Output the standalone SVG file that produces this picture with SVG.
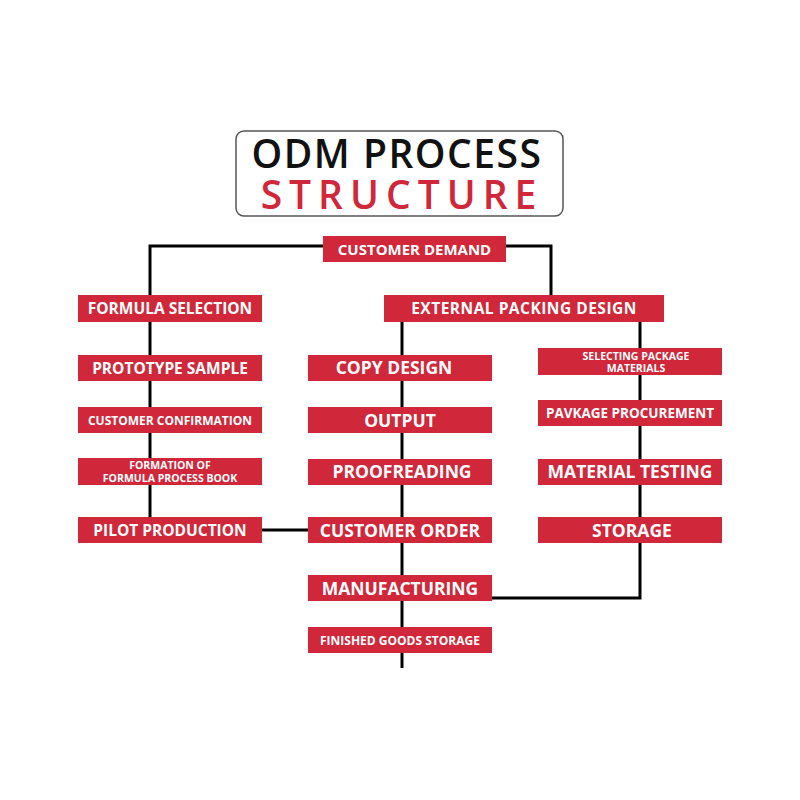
<svg xmlns="http://www.w3.org/2000/svg" width="800" height="800" viewBox="0 0 800 800">
<style>
.b{fill:#d0273a}
.t{fill:#fff;font-family:"Open Sans","Liberation Sans",sans-serif;font-weight:bold;text-anchor:middle}
.l{stroke:#000;stroke-width:3;fill:none}
</style>
<rect width="800" height="800" fill="#fff"/>
<g id="title">
<rect x="236" y="131" width="327" height="85" rx="8" fill="#fff" stroke="#555" stroke-width="1.5"/>
<text x="397" y="168" font-family="'Open Sans','Liberation Sans',sans-serif" font-size="39" font-weight="600" text-anchor="middle" fill="#111" letter-spacing="1.5">ODM  PROCESS</text>
<text x="402" y="209" font-family="'Open Sans','Liberation Sans',sans-serif" font-size="39" font-weight="600" text-anchor="middle" fill="#d0273a" letter-spacing="7">STRUCTURE</text>
</g>
<g id="connectors" class="l">
<polyline points="150,295 150,246 551,246 551,295"/>
<line x1="150" y1="322" x2="150" y2="517"/>
<line x1="262" y1="530" x2="308" y2="530"/>
<line x1="402" y1="322" x2="402" y2="668"/>
<polyline points="640,322 640,598 492,598"/>
</g>
<g id="n1"><rect class="b" x="323" y="236" width="183" height="26"/><text class="t" x="414.5" y="255" font-size="15">CUSTOMER DEMAND</text></g>
<g id="n2"><rect class="b" x="78" y="295" width="184" height="27"/><text class="t" x="170" y="314" font-size="15.5">FORMULA SELECTION</text></g>
<g id="n3"><rect class="b" x="384" y="295" width="280" height="27"/><text class="t" x="524" y="314" font-size="15.5" letter-spacing="0.5">EXTERNAL PACKING DESIGN</text></g>
<g id="n4"><rect class="b" x="78" y="355" width="184" height="26"/><text class="t" x="170" y="374" font-size="15.5">PROTOTYPE SAMPLE</text></g>
<g id="n5"><rect class="b" x="78" y="407" width="184" height="26"/><text class="t" x="170" y="425" font-size="12">CUSTOMER CONFIRMATION</text></g>
<g id="n6"><rect class="b" x="78" y="458" width="184" height="27"/><text class="t" x="170" y="469" font-size="10.5">FORMATION OF</text><text class="t" x="170" y="481.5" font-size="10.5">FORMULA PROCESS BOOK</text></g>
<g id="n7"><rect class="b" x="78" y="517" width="184" height="26"/><text class="t" x="170" y="536" font-size="15.5">PILOT PRODUCTION</text></g>
<g id="n8"><rect class="b" x="308" y="355" width="184" height="26"/><text class="t" x="394" y="374" font-size="17.5">COPY  DESIGN</text></g>
<g id="n9"><rect class="b" x="308" y="407" width="184" height="26"/><text class="t" x="400" y="427" font-size="17.5">OUTPUT</text></g>
<g id="n10"><rect class="b" x="308" y="459" width="184" height="26"/><text class="t" x="402" y="478" font-size="17.5">PROOFREADING</text></g>
<g id="n11"><rect class="b" x="308" y="517" width="184" height="26"/><text class="t" x="400" y="537" font-size="17.5">CUSTOMER ORDER</text></g>
<g id="n12"><rect class="b" x="308" y="575" width="184" height="26"/><text class="t" x="400" y="595" font-size="17.5">MANUFACTURING</text></g>
<g id="n13"><rect class="b" x="308" y="627" width="184" height="26"/><text class="t" x="400" y="645" font-size="12">FINISHED GOODS STORAGE</text></g>
<g id="n14"><rect class="b" x="538" y="348" width="184" height="27"/><text class="t" x="636" y="359.5" font-size="10.5">SELECTING PACKAGE</text><text class="t" x="636" y="371.5" font-size="10.5">MATERIALS</text></g>
<g id="n15"><rect class="b" x="538" y="400" width="184" height="26"/><text class="t" x="630" y="418" font-size="13.5">PAVKAGE PROCUREMENT</text></g>
<g id="n16"><rect class="b" x="538" y="459" width="184" height="26"/><text class="t" x="630" y="478" font-size="17.5">MATERIAL TESTING</text></g>
<g id="n17"><rect class="b" x="538" y="517" width="184" height="26"/><text class="t" x="632" y="537" font-size="17.5">STORAGE</text></g>
</svg>
